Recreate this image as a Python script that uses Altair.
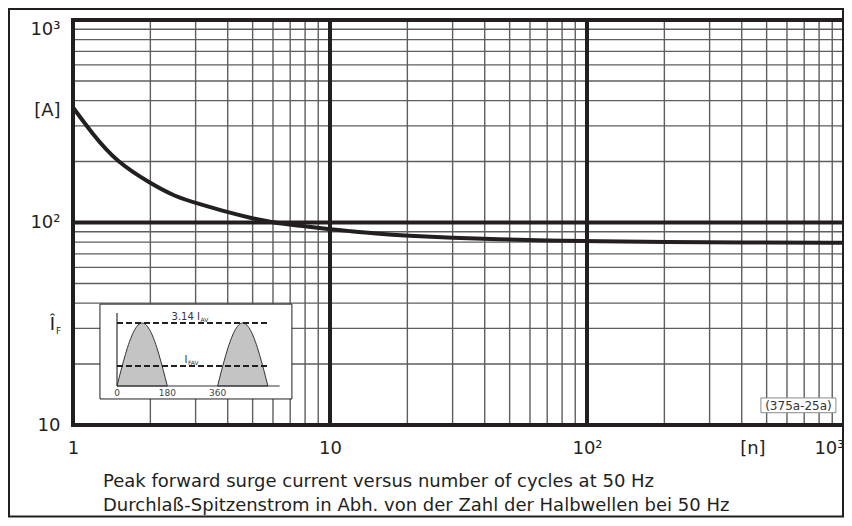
import altair as alt
import pandas as pd

FONT = "DejaVu Sans"
INK = "#231f20"

# ---- main curve: number of cycles n vs peak surge current [A]
n_vals = [1, 1.2, 1.48, 2, 2.5, 3.1, 4, 5, 5.8, 7.6, 10, 11.8, 15, 20, 30, 45, 70, 110, 200, 400, 1000]
i_vals = [370, 270, 199, 156, 134, 123.4, 112.3, 104.7, 100.8, 96.3, 92.6, 90.8, 88.2, 86.0, 84.0, 82.6, 81.5, 80.7, 80.1, 79.7, 79.5]

# ---- grid values
grid_major_x = [1, 10, 100, 1000]
grid_minor_x = [m * d for d in (1, 10, 100) for m in range(2, 10)]
grid_major_y = [10, 100, 1000]
grid_minor_y = [m * d for d in (10, 100) for m in range(2, 10)]

# ---- tick labels
x_tick_values = [1, 10, 100, 440, 1000]
x_tick_labels = ["1", "10", "10²", "[n]", "10³\u2009"]
y_tick_values = [10, 100, 359, 1000]
y_tick_labels = ["10", "10²", "[A]", "10³"]
y_symbol_value = [31.2]

# ---- caption
caption = [
    "Peak forward surge current versus number of cycles at 50 Hz",
    "Durchlaß-Spitzenstrom in Abh. von der Zahl der Halbwellen bei 50 Hz",
]
code_label = "(375a-25a)"
code_box_n = [475, 930]
code_box_i = [11.5, 13.6]
code_text_pos = [665, 12.45]

# ---- inset schematic (degrees vs relative amplitude)
inset_box_deg = [-61, 626]
inset_box_amp = [-0.206, 1.30]
half_wave_deg = [0, 15, 30, 45, 60, 75, 90, 105, 120, 135, 150, 165, 180]
half_wave_amp = [0, 0.259, 0.5, 0.707, 0.866, 0.966, 1, 0.966, 0.866, 0.707, 0.5, 0.259, 0]
hump_starts = [0, 360]
peak_level = 1.0
avg_level = 0.318
dash_end_deg = 540
base_end_deg = 582
vaxis_top = 1.16
inset_ticks = [0, 180, 360]
inset_tick_labels = ["0", "180", "360"]


def label_expr(values, labels):
    expr = "''"
    for v, l in zip(values, labels):
        expr = f"abs(datum.value - {v}) < 1e-6 ? '{l}' : ({expr})"
    return expr


xscale = alt.Scale(type="log", domain=[1, 1000], nice=False)
yscale = alt.Scale(type="log", domain=[10, 1000], nice=False)

xaxis = alt.Axis(
    values=x_tick_values,
    labelExpr=label_expr(x_tick_values, x_tick_labels),
    grid=False, ticks=False, domain=False, title=None,
    labelFont=FONT, labelFontSize=18, labelColor=INK, labelPadding=14,
    labelBaseline="top",
    labelAlign={"condition": {"test": "datum.value == 1000", "value": "right"}, "value": "center"},
)
yaxis = alt.Axis(
    values=y_tick_values,
    labelExpr=label_expr(y_tick_values, y_tick_labels),
    grid=False, ticks=False, domain=False, title=None,
    labelFont=FONT, labelFontSize=18, labelColor=INK, labelPadding=13,
    labelBaseline={"condition": {"test": "datum.value == 1000", "value": "top"}, "value": "middle"},
)


def X(field):
    return alt.X(f"{field}:Q", scale=xscale, axis=xaxis)


def Y(field):
    return alt.Y(f"{field}:Q", scale=yscale, axis=yaxis)


curve_df = pd.DataFrame({"n": n_vals, "i": i_vals})

minor_vx = alt.Chart(pd.DataFrame({"n": grid_minor_x})).mark_rule(color="#5e5e5e", strokeWidth=1.4).encode(x=X("n"))
minor_hy = alt.Chart(pd.DataFrame({"i": grid_minor_y})).mark_rule(color="#5e5e5e", strokeWidth=1.4).encode(y=Y("i"))
major_vx = alt.Chart(pd.DataFrame({"n": grid_major_x})).mark_rule(color=INK, strokeWidth=4).encode(x=X("n"))
major_hy = alt.Chart(pd.DataFrame({"i": grid_major_y})).mark_rule(color=INK, strokeWidth=4).encode(y=Y("i"))

curve = alt.Chart(curve_df).mark_line(color=INK, strokeWidth=4, interpolate="basis").encode(
    x=X("n"), y=Y("i")
)

code_box = alt.Chart(pd.DataFrame({"n": [code_box_n[0]], "n2": [code_box_n[1]], "i": [code_box_i[0]], "i2": [code_box_i[1]]})).mark_rect(
    fill="white", stroke="#8a8a8a", strokeWidth=1
).encode(x=X("n"), x2="n2:Q", y=Y("i"), y2="i2:Q")
code_text = alt.Chart(pd.DataFrame({"n": [code_text_pos[0]], "i": [code_text_pos[1]], "t": [code_label]})).mark_text(
    font=FONT, fontSize=12, color="#333333", align="center", baseline="middle"
).encode(x=X("n"), y=Y("i"), text="t:N")

sym_df = pd.DataFrame({"n": [1], "i": y_symbol_value})
sym_main = alt.Chart(sym_df).mark_text(
    text="Î", font=FONT, fontSize=18, color=INK, align="right", baseline="middle", dx=-18
).encode(x=X("n"), y=Y("i"))
sym_sub = alt.Chart(sym_df).mark_text(
    text="F", font=FONT, fontSize=9, color=INK, align="left", baseline="middle", dx=-17, dy=6
).encode(x=X("n"), y=Y("i"))

frame_df = pd.DataFrame({"k": [0]})
outer_frame = alt.Chart(frame_df).mark_rect(fillOpacity=0, stroke=INK, strokeWidth=2).encode(
    x=alt.value(-64), x2=alt.value(770), y=alt.value(-11), y2=alt.value(496.5)
)
cap1 = alt.Chart(pd.DataFrame({"t": [caption[0]]})).mark_text(
    font=FONT, fontSize=18, color=INK, align="left", baseline="middle"
).encode(x=alt.value(30), y=alt.value(462), text="t:N")
cap2 = alt.Chart(pd.DataFrame({"t": [caption[1]]})).mark_text(
    font=FONT, fontSize=18, color=INK, align="left", baseline="middle"
).encode(x=alt.value(30), y=alt.value(485.5), text="t:N")

main = alt.layer(minor_vx, minor_hy, major_vx, major_hy, curve, code_box, code_text, sym_main, sym_sub,
                 outer_frame, cap1, cap2)

# ---- inset with its own linear scales
ixs = alt.Scale(domain=[-157.5, 2602.0], nice=False, zero=False)
iys = alt.Scale(domain=[-0.619, 5.81], nice=False, zero=False)


def IX(field):
    return alt.X(f"{field}:Q", scale=ixs, axis=None)


def IY(field):
    return alt.Y(f"{field}:Q", scale=iys, axis=None)


box = alt.Chart(pd.DataFrame({"d": [inset_box_deg[0]], "d2": [inset_box_deg[1]], "a": [inset_box_amp[0]], "a2": [inset_box_amp[1]]})).mark_rect(
    fill="white", stroke=INK, strokeWidth=1
).encode(x=IX("d"), x2="d2:Q", y=IY("a"), y2="a2:Q")

hump_rows = []
for h, s in enumerate(hump_starts):
    for d, a in zip(half_wave_deg, half_wave_amp):
        hump_rows.append({"d": s + d, "a": a, "z": 0.0, "h": h})
humps = alt.Chart(pd.DataFrame(hump_rows)).mark_area(
    fill="#c4c4c4", stroke="#333333", strokeWidth=1, interpolate="monotone"
).encode(x=IX("d"), y=IY("a"), y2="z:Q", detail="h:N")

axes_df = pd.DataFrame({"d": [0], "d2": [base_end_deg], "a": [0], "a2": [vaxis_top]})
base_line = alt.Chart(axes_df).mark_rule(color="#333333", strokeWidth=1.2).encode(x=IX("d"), x2="d2:Q", y=IY("a"))
v_line = alt.Chart(axes_df).mark_rule(color="#333333", strokeWidth=1.2).encode(x=IX("d"), y=IY("a"), y2="a2:Q")

dash_df = pd.DataFrame({"d": [0, 0], "d2": [dash_end_deg, dash_end_deg], "a": [peak_level, avg_level]})
dashes = alt.Chart(dash_df).mark_rule(color=INK, strokeWidth=2, strokeDash=[6, 3]).encode(
    x=IX("d"), x2="d2:Q", y=IY("a")
)

tick_df = pd.DataFrame({"d": inset_ticks, "t": inset_tick_labels, "a": [-0.16] * 3})
tick_txt = alt.Chart(tick_df).mark_text(font=FONT, fontSize=9, color="#444444", align="center", baseline="alphabetic").encode(
    x=IX("d"), y=IY("a"), text="t:N"
)

lab_main = pd.DataFrame({"d": [297, 252], "a": [1.04, 0.37], "t": ["3.14 I", "I"]})
lab_sub = pd.DataFrame({"d": [299, 254], "a": [1.01, 0.34], "t": ["AV", "FAV"]})
lab1 = alt.Chart(lab_main).mark_text(font=FONT, fontSize=10, color="#333333", align="right", baseline="alphabetic").encode(
    x=IX("d"), y=IY("a"), text="t:N"
)
lab2 = alt.Chart(lab_sub).mark_text(font=FONT, fontSize=6, color="#333333", align="left", baseline="alphabetic").encode(
    x=IX("d"), y=IY("a"), text="t:N"
)

inset = alt.layer(box, humps, base_line, v_line, dashes, tick_txt, lab1, lab2)

chart = alt.layer(main, inset).resolve_scale(x="independent", y="independent").properties(
    width=771, height=405,
    padding={"left": 65, "top": 12, "right": 0, "bottom": 93},
    autosize=alt.AutoSizeParams(type="none"),
    background="white",
).configure_view(stroke=INK, strokeWidth=4)

chart.save("out.html", embed_options={"renderer": "svg", "actions": False})
